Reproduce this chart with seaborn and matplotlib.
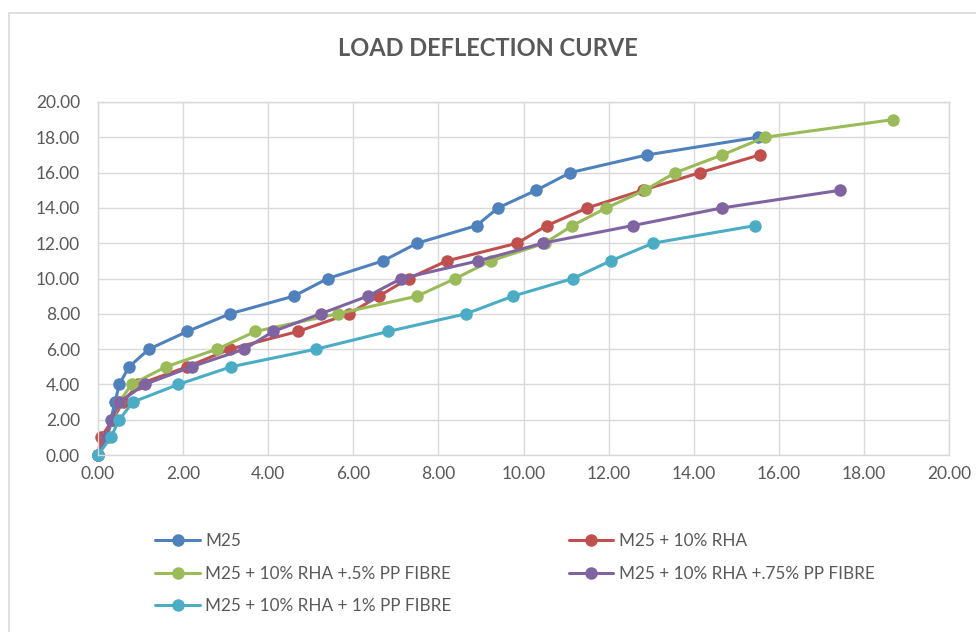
import pandas as pd
import seaborn as sns
import matplotlib.pyplot as plt
from matplotlib.patches import Rectangle

# deflection (x) and load (y)
labels = ['M25', 'M25 + 10% RHA', 'M25 + 10% RHA +.5% PP FIBRE',
          'M25 + 10% RHA +.75% PP FIBRE', 'M25 + 10% RHA + 1% PP FIBRE']
colors = ['#4F81BD', '#C0504D', '#9BBB59', '#8064A2', '#4BACC6']

m25_x = [0, 0.15, 0.3, 0.4, 0.5, 0.73, 1.2, 2.1, 3.1, 4.6, 5.4, 6.7, 7.5, 8.9, 9.4, 10.3, 11.1, 12.9, 15.5]
m25_y = [0, 1, 2, 3, 4, 5, 6, 7, 8, 9, 10, 11, 12, 13, 14, 15, 16, 17, 18]

rha_x = [0, 0.07, 0.35, 0.58, 0.95, 2.1, 3.1, 4.7, 5.9, 6.6, 7.3, 8.2, 9.85, 10.55, 11.5, 12.8, 14.15, 15.55]
rha_y = [0, 1, 2, 3, 4, 5, 6, 7, 8, 9, 10, 11, 12, 13, 14, 15, 16, 17]

pp05_x = [0, 0.2, 0.35, 0.5, 0.79, 1.6, 2.8, 3.7, 5.63, 7.5, 8.4, 9.23, 10.5, 11.15, 11.95, 12.85, 13.57, 14.67, 15.67, 18.68]
pp05_y = [0, 1, 2, 3, 4, 5, 6, 7, 8, 9, 10, 11, 12, 13, 14, 15, 16, 17, 18, 19]

pp075_x = [0, 0.2, 0.32, 0.5, 1.1, 2.2, 3.44, 4.12, 5.23, 6.34, 7.13, 8.94, 10.45, 12.57, 14.67, 17.45]
pp075_y = [0, 1, 2, 3, 4, 5, 6, 7, 8, 9, 10, 11, 12, 13, 14, 15]

pp1_x = [0, 0.3, 0.5, 0.82, 1.89, 3.13, 5.13, 6.82, 8.65, 9.75, 11.16, 12.05, 13.04, 15.45]
pp1_y = [0, 1, 2, 3, 4, 5, 6, 7, 8, 9, 10, 11, 12, 13]

frames = []
for name, xs, ys in zip(labels,
                        [m25_x, rha_x, pp05_x, pp075_x, pp1_x],
                        [m25_y, rha_y, pp05_y, pp075_y, pp1_y]):
    frames.append(pd.DataFrame({'Deflection': xs, 'Load': ys, 'Mix': name}))
df = pd.concat(frames, ignore_index=True)

sns.set_style('white')
plt.rcParams['font.family'] = ['Lato', 'DejaVu Sans']

fig = plt.figure(figsize=(9.76, 6.32), dpi=100)
ax = fig.add_axes([98 / 976, 1 - 455 / 632, (949 - 98) / 976, (455 - 102) / 632])

sns.lineplot(data=df, x='Deflection', y='Load', hue='Mix', hue_order=labels,
             palette=colors, marker='o', markersize=9, markeredgewidth=0,
             linewidth=2.2, estimator=None, sort=False, ax=ax, legend=True)

ax.set_xlim(0, 20)
ax.set_ylim(0, 20)
ax.set_xticks(range(0, 21, 2))
ax.set_yticks(range(0, 21, 2))
ax.set_xticklabels(['%.2f' % v for v in range(0, 21, 2)])
ax.set_yticklabels(['%.2f' % v for v in range(0, 21, 2)])
ax.tick_params(colors='#595959', labelsize=12.5, length=0)
ax.tick_params(axis='y', pad=13)
ax.tick_params(axis='x', pad=8)
ax.grid(True, color='#D9D9D9', linewidth=1)
for s in ax.spines.values():
    s.set_color('#D9D9D9')
    s.set_linewidth(1)
ax.set_xlabel('')
ax.set_ylabel('')
for line in ax.lines:
    line.set_clip_on(False)

fig.text(0.5, 1 - 48 / 632, 'LOAD DEFLECTION CURVE', ha='center', va='center',
         fontsize=17, fontweight='bold', color='#595959')

# legend: order so that rows read M25 / RHA, .5% / .75%, 1%
handles, names = ax.get_legend_handles_labels()
order = [0, 2, 4, 1, 3]
ax.get_legend().remove()
fig.legend([handles[i] for i in order], [names[i] for i in order],
           loc='upper left', bbox_to_anchor=(140 / 976, 1 - 518 / 632),
           ncol=2, frameon=False, fontsize=12.3, labelcolor='#595959',
           handlelength=2.6, handletextpad=0.3, columnspacing=6.9,
           labelspacing=0.95)

fig.patches.append(Rectangle((9 / 976, -0.05), 1.1, 1 - 13 / 632 + 0.05,
                             transform=fig.transFigure, fill=False,
                             edgecolor='#D9D9D9', linewidth=1.2))

fig.savefig('out.png', dpi=100)
